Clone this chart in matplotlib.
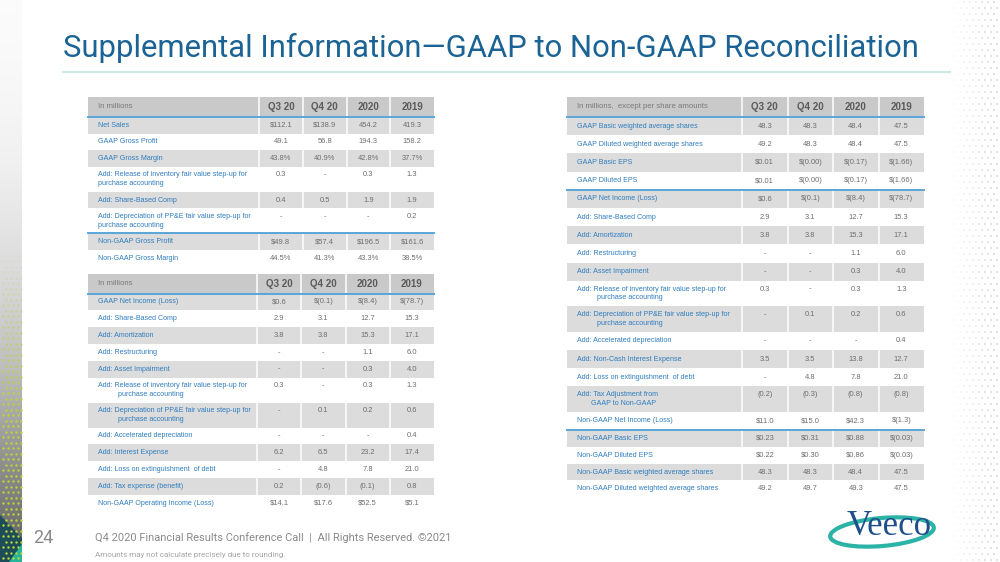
import numpy as np
import matplotlib.pyplot as plt
import matplotlib.patches as patches
from matplotlib import font_manager

# ---- data -------------------------------------------------------------
columns = ["Q3 20", "Q4 20", "2020", "2019"]

margin_header = "In millions"
margin_labels = [
    "Net Sales",
    "GAAP Gross Profit",
    "GAAP Gross Margin",
    "Add: Release of inventory fair value step-up for\npurchase accounting",
    "Add: Share-Based Comp",
    "Add: Depreciation of PP&E fair value step-up for\npurchase accounting",
    "Non-GAAP Gross Profit",
    "Non-GAAP Gross Margin",
]
margin_values = [
    ["$112.1", "$138.9", "454.2", "419.3"],
    ["49.1", "56.8", "194.3", "158.2"],
    ["43.8%", "40.9%", "42.8%", "37.7%"],
    ["0.3", "-", "0.3", "1.3"],
    ["0.4", "0.5", "1.9", "1.9"],
    ["-", "-", "-", "0.2"],
    ["$49.8", "$57.4", "$196.5", "$161.6"],
    ["44.5%", "41.3%", "43.3%", "38.5%"],
]

opinc_header = "In millions"
opinc_labels = [
    "GAAP Net Income (Loss)",
    "Add: Share-Based Comp",
    "Add: Amortization",
    "Add: Restructuring",
    "Add: Asset Impairment",
    "Add: Release of inventory fair value step-up for\n          purchase accounting",
    "Add: Depreciation of PP&E fair value step-up for\n          purchase accounting",
    "Add: Accelerated depreciation",
    "Add: Interest Expense",
    "Add: Loss on extinguishment  of debt",
    "Add: Tax expense (benefit)",
    "Non-GAAP Operating Income (Loss)",
]
opinc_values = [
    ["$0.6", "$(0.1)", "$(8.4)", "$(78.7)"],
    ["2.9", "3.1", "12.7", "15.3"],
    ["3.8", "3.8", "15.3", "17.1"],
    ["-", "-", "1.1", "6.0"],
    ["-", "-", "0.3", "4.0"],
    ["0.3", "-", "0.3", "1.3"],
    ["-", "0.1", "0.2", "0.6"],
    ["-", "-", "-", "0.4"],
    ["6.2", "6.5", "23.2", "17.4"],
    ["-", "4.8", "7.8", "21.0"],
    ["0.2", "(0.6)", "(0.1)", "0.8"],
    ["$14.1", "$17.6", "$52.5", "$5.1"],
]

eps_header = "In millions,  except per share amounts"
eps_labels = [
    "GAAP Basic weighted average shares",
    "GAAP Diluted weighted average shares",
    "GAAP Basic EPS",
    "GAAP Diluted EPS",
    "GAAP Net Income (Loss)",
    "Add: Share-Based Comp",
    "Add: Amortization",
    "Add: Restructuring",
    "Add: Asset Impairment",
    "Add: Release of inventory fair value step-up for\n          purchase accounting",
    "Add: Depreciation of PP&E fair value step-up for\n          purchase accounting",
    "Add: Accelerated depreciation",
    "Add: Non-Cash Interest Expense",
    "Add: Loss on extinguishment  of debt",
    "Add: Tax Adjustment from\n       GAAP to Non-GAAP",
    "Non-GAAP Net Income (Loss)",
]
eps_values = [
    ["48.3", "48.3", "48.4", "47.5"],
    ["49.2", "48.3", "48.4", "47.5"],
    ["$0.01", "$(0.00)", "$(0.17)", "$(1.66)"],
    ["$0.01", "$(0.00)", "$(0.17)", "$(1.66)"],
    ["$0.6", "$(0.1)", "$(8.4)", "$(78.7)"],
    ["2.9", "3.1", "12.7", "15.3"],
    ["3.8", "3.8", "15.3", "17.1"],
    ["-", "-", "1.1", "6.0"],
    ["-", "-", "0.3", "4.0"],
    ["0.3", "-", "0.3", "1.3"],
    ["-", "0.1", "0.2", "0.6"],
    ["-", "-", "-", "0.4"],
    ["3.5", "3.5", "13.8", "12.7"],
    ["-", "4.8", "7.8", "21.0"],
    ["(0.2)", "(0.3)", "(0.8)", "(0.8)"],
    ["$11.0", "$15.0", "$42.3", "$(1.3)"],
]
nongaap_labels = [
    "Non-GAAP Basic EPS",
    "Non-GAAP Diluted EPS",
    "Non-GAAP Basic weighted average shares",
    "Non-GAAP Diluted weighted average shares",
]
nongaap_values = [
    ["$0.23", "$0.31", "$0.88", "$(0.03)"],
    ["$0.22", "$0.30", "$0.86", "$(0.03)"],
    ["48.3", "48.3", "48.4", "47.5"],
    ["49.2", "49.7", "49.3", "47.5"],
]

title = "Supplemental Information\u2014GAAP to Non-GAAP Reconciliation"
page_no = "24"
footer = "Q4 2020 Financial Results Conference Call  |  All Rights Reserved. \u00a92021"
footnote = "Amounts may not calculate precisely due to rounding."

# ---- styles -----------------------------------------------------------
installed = {f.name for f in font_manager.fontManager.ttflist}
SANS = "Liberation Sans" if "Liberation Sans" in installed else "DejaVu Sans"
NARROW = "Liberation Sans Narrow" if "Liberation Sans Narrow" in installed else "Roboto"
SERIF = "Liberation Serif" if "Liberation Serif" in installed else "DejaVu Serif"

BLUE_TXT = "#2f7dbf"
VAL_TXT = "#6e6e6e"
HEAD_BG = "#c9c9c9"
ROW_BG = "#dcdcdc"
RULE = "#5aa6d8"


def draw_table(ax, x0, xs, x1, top, labels, values, row_h, dbl_h,
               header=None, head_h=20, rules_above=(), line_gap=8.8,
               gray_even=True):
    edges = np.linspace(xs, x1, len(columns) + 1)
    centers = (edges[:-1] + edges[1:]) / 2
    y = top
    if header is not None:
        ax.add_patch(patches.Rectangle((x0, y), x1 - x0, head_h,
                                       facecolor=HEAD_BG, edgecolor='none'))
        ax.text(x0 + 10, y + head_h / 2, header, fontsize=5.6, color="#7a7a7a",
                family=SANS, va='center', ha='left')
        for cx, c in zip(centers, columns):
            ax.text(cx, y + head_h / 2 + 0.5, c, fontsize=7, color="#5a5a5a",
                    family=SANS, weight='bold', va='center', ha='center')
        y += head_h
        ax.plot([x0, x1], [y, y], color=RULE, lw=1.4, zorder=4)
    for i, (lab, vals) in enumerate(zip(labels, values)):
        lines = lab.split("\n")
        h = row_h if len(lines) == 1 else dbl_h
        if (i % 2 == 0) == gray_even:
            ax.add_patch(patches.Rectangle((x0, y), x1 - x0, h,
                                           facecolor=ROW_BG, edgecolor='none'))
        if i in rules_above:
            ax.plot([x0, x1], [y, y], color=RULE, lw=1.4, zorder=4)
        y_first = y + (h - line_gap * (len(lines) - 1)) / 2
        for k, ln in enumerate(lines):
            ax.text(x0 + 10, y_first + k * line_gap, ln, fontsize=5.1,
                    color=BLUE_TXT, family=SANS, va='center', ha='left')
        for cx, v in zip(centers, vals):
            ax.text(cx, y_first, v, fontsize=5.4, color=VAL_TXT,
                    family=SANS, va='center', ha='center')
        y += h
    # white column separators
    for ex in edges[:-1]:
        ax.plot([ex, ex], [top, y], color='white', lw=1.1, zorder=3)
    return y


fig = plt.figure(figsize=(10, 5.62), dpi=100)
ax = fig.add_axes([0, 0, 1, 1])
ax.set_xlim(0, 1000)
ax.set_ylim(562, 0)
ax.axis('off')

# left decorative strip
grad = np.linspace(0, 1, 200)[:, None] ** 1.6
ax.imshow(grad, extent=(0, 22, 562, 0), cmap='Greys', vmin=-0.05, vmax=1.45,
          aspect='auto', zorder=0)
dy = np.arange(250, 562, 5.5)
for j, yy in enumerate(dy):
    xx = np.arange(3 + (j % 2) * 2.5, 22, 5)
    a = min(1.0, max(0.0, (yy - 250) / 160))
    ax.scatter(xx, np.full_like(xx, yy), s=3.0, color="#b8d638", alpha=a,
               lw=0, zorder=1)
ax.add_patch(patches.Polygon([(0, 515), (22, 538), (22, 562), (0, 562)],
                             closed=True, facecolor="#1d4d58", edgecolor='none',
                             zorder=0.5))
ax.add_patch(patches.Polygon([(9, 562), (22, 544), (22, 562)], closed=True,
                             facecolor="#25b59b", edgecolor='none', zorder=0.6))

# right dotted pattern
for j, yy in enumerate(np.arange(2, 562, 6)):
    xx = np.arange(952 + (j % 2) * 3, 1000, 6)
    alpha = np.clip((xx - 950) / 50, 0, 1) * 0.8
    ax.scatter(xx, np.full_like(xx, yy, dtype=float), s=2.0,
               color="#c8c8c8", alpha=alpha, lw=0, zorder=1)

# title
ax.text(63, 57, title, fontsize=22.3, color="#1b6394", family=NARROW,
        va='baseline', ha='left')
ax.plot([63, 950], [72, 72], color="#cfe9e5", lw=1.6)

# tables
draw_table(ax, 88, 259, 434, 97, margin_labels, margin_values, 16.6, 25.0,
           header=margin_header, head_h=20, rules_above=(6,))
draw_table(ax, 88, 257, 434, 274, opinc_labels, opinc_values, 16.8, 25.0,
           header=opinc_header, head_h=19.5)
yb = draw_table(ax, 567, 742, 924, 97, eps_labels, eps_values, 18.2, 25.5,
                header=eps_header, head_h=20, rules_above=(4,))
draw_table(ax, 567, 742, 924, yb, nongaap_labels, nongaap_values, 16.8, 16.8,
           rules_above=(0,))

# footer
ax.text(33, 538, page_no, fontsize=13, color="#8a8a8a", family=NARROW,
        va='center', ha='left')
ax.text(95, 538, footer, fontsize=7.9, color="#8a8a8a", family=NARROW,
        va='center', ha='left')
ax.text(95, 555, footnote, fontsize=5.8, color="#a5a5a5", family=NARROW,
        va='center', ha='left')

# logo
ax.add_patch(patches.Ellipse((882, 532), 104, 28, angle=-5, facecolor='none',
                             edgecolor="#2bb3a5", lw=3.0, zorder=2))
ax.text(889, 535, "Veeco", fontsize=25, color="#1f4f8a", family=SERIF,
        va='baseline', ha='center', zorder=3)

fig.savefig("out.png", dpi=100)
